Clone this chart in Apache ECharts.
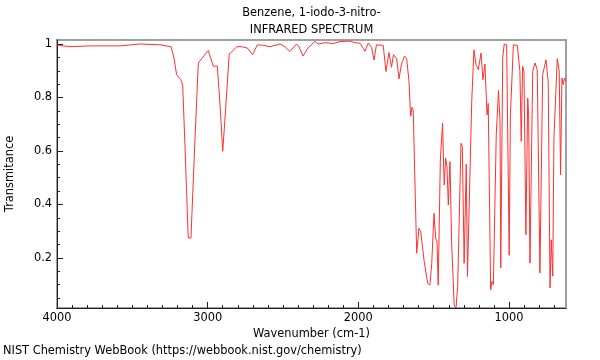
<!DOCTYPE html>
<html>
<head>
<meta charset="utf-8">
<script src="https://cdn.jsdelivr.net/npm/echarts@6/dist/echarts.min.js"></script>
<style>html,body{margin:0;padding:0;background:#fff}#c{width:600px;height:360px}</style>
</head>
<body>
<div id="c"></div>
<script>
const titleLines = ['Benzene, 1-iodo-3-nitro-', 'INFRARED SPECTRUM'];
const footerText = 'NIST Chemistry WebBook (https://webbook.nist.gov/chemistry)';
const xAxisName = 'Wavenumber (cm-1)';
const yAxisName = 'Transmitance';
const xTickLabels = [1000, 2000, 3000, 4000];
const yTickLabels = [0.2, 0.4, 0.6, 0.8, 1];
const xMinorTicks = [700,800,900,1100,1200,1300,1400,1500,1600,1700,1800,1900,2100,2200,2300,2400,2500,2600,2700,2800,2900,3100,3200,3300,3400,3500,3600,3700,3800,3900];
const yMinorTicks = [0.05,0.1,0.15,0.25,0.3,0.35,0.45,0.5,0.55,0.65,0.7,0.75,0.85,0.9,0.95];

const wavenumber = [4000,3914,3781,3582,3449,3316,3243,3224,3206,3179,3166,3151,3129,3111,3084,3062,3040,2996,2985,2963,2936,2927,2918,2900,2885,2857,2841,2807,2774,2737,2701,2671,2631,2587,2520,2487,2454,2411,2394,2368,2334,2288,2268,2222,2168,2122,2056,2022,1989,1956,1934,1912,1896,1880,1835,1817,1797,1780,1767,1757,1746,1730,1714,1694,1679,1664,1653,1644,1636,1613,1598,1586,1576,1563,1551,1540,1525,1513,1498,1487,1478,1470,1456,1441,1434,1430,1421,1412,1403,1392,1381,1364,1352,1341,1319,1310,1298,1284,1276,1248,1233,1219,1204,1186,1173,1160,1146,1138,1122,1113,1104,1085,1070,1060,1055,1042,1032,1016,999,991,971,945,928,919,910,901,888,876,870,861,843,828,813,795,777,755,740,728,720,710,702,680,667,658,649,640,632,624];
const transmittance = [0.996,0.99,0.993,0.993,1.0,0.997,0.99,0.948,0.885,0.867,0.848,0.624,0.275,0.275,0.649,0.929,0.945,0.976,0.97,0.917,0.917,0.91,0.773,0.599,0.723,0.963,0.97,0.99,0.99,0.985,0.96,0.997,0.995,0.99,1.0,0.99,0.972,1.0,0.99,0.955,0.985,1.01,1.0,1.005,1.002,1.009,1.011,1.005,1.003,0.973,1.004,0.987,0.94,0.997,0.995,0.897,0.968,0.913,0.96,0.966,0.945,0.87,0.925,0.955,0.945,0.86,0.73,0.763,0.753,0.218,0.311,0.298,0.292,0.186,0.18,0.105,0.099,0.18,0.367,0.274,0.261,0.099,0.566,0.704,0.541,0.473,0.573,0.541,0.398,0.56,0.255,0.024,0.013,0.093,0.629,0.616,0.18,0.551,0.131,0.78,0.978,0.923,0.904,0.966,0.866,0.925,0.735,0.778,0.081,0.112,0.1,0.66,0.826,0.711,0.163,0.948,1.0,0.997,0.21,0.736,0.997,0.995,0.898,0.636,0.917,0.898,0.287,0.798,0.736,0.181,0.898,0.929,0.904,0.144,0.885,0.941,0.86,0.088,0.268,0.132,0.649,0.945,0.898,0.511,0.873,0.848,0.873,0.86];

const X_MIN = 622, X_MAX = 4000, Y_MIN = 0.013, Y_MAX = 1.015;
const FONT = 'DejaVu Sans';
const FS = 11.4;

const chart = echarts.init(document.getElementById('c'), null, {renderer: 'canvas'});
const baseX = {
  type: 'value', min: X_MIN, max: X_MAX, inverse: true, gridIndex: 0,
  splitLine: {show: false}
};
const baseY = {
  type: 'value', min: Y_MIN, max: Y_MAX, gridIndex: 0,
  splitLine: {show: false}
};
chart.setOption({
  animation: false,
  backgroundColor: '#fff',
  title: [
    {text: titleLines.join('\n'), left: 311.5, top: 5, padding: 0, textAlign: 'center',
     textStyle: {fontFamily: FONT, fontSize: FS, fontWeight: 'normal', color: '#000', lineHeight: 17}},
    {text: footerText, left: 3, top: 346, padding: 0,
     textStyle: {fontFamily: FONT, fontSize: FS, fontWeight: 'normal', color: '#000'}}
  ],
  grid: {left: 57, right: 34, top: 40, bottom: 52, outerBoundsMode: 'none', containLabel: false,
         show: true, borderColor: '#a0a0a0', borderWidth: 2, backgroundColor: 'transparent'},
  xAxis: [
    Object.assign({}, baseX, {
      position: 'bottom',
      name: xAxisName, nameLocation: 'middle', nameGap: 18,
      nameTextStyle: {fontFamily: FONT, fontSize: FS, color: '#000'},
      axisLine: {show: true, lineStyle: {color: '#222', width: 1}},
      axisTick: {show: true, inside: true, length: 6, customValues: xTickLabels, lineStyle: {color: '#222'}},
      axisLabel: {show: true, margin: 5, customValues: xTickLabels, fontFamily: FONT, fontSize: FS, color: '#000',
                  formatter: v => String(Math.round(v))}
    }),
    Object.assign({}, baseX, {
      position: 'bottom',
      axisLine: {show: false},
      axisTick: {show: true, inside: true, length: 3, customValues: xMinorTicks, lineStyle: {color: '#222'}},
      axisLabel: {show: false}
    })
  ],
  yAxis: [
    Object.assign({}, baseY, {
      position: 'left',
      name: yAxisName, nameLocation: 'middle', nameGap: 41, nameRotate: 90,
      nameTextStyle: {fontFamily: FONT, fontSize: FS, color: '#000'},
      axisLine: {show: true, lineStyle: {color: '#222', width: 1}},
      axisTick: {show: true, inside: true, length: 6, customValues: yTickLabels, lineStyle: {color: '#222'}},
      axisLabel: {show: true, margin: 5, customValues: yTickLabels, fontFamily: FONT, fontSize: FS, color: '#000',
                  formatter: v => String(Math.round(v * 10) / 10)}
    }),
    Object.assign({}, baseY, {
      position: 'left',
      axisLine: {show: false},
      axisTick: {show: true, inside: true, length: 3, customValues: yMinorTicks, lineStyle: {color: '#222'}},
      axisLabel: {show: false}
    })
  ],
  series: [{
    type: 'line',
    xAxisIndex: 0, yAxisIndex: 0,
    data: wavenumber.map((w, i) => [w, transmittance[i]]),
    showSymbol: false, symbol: 'none',
    clip: true,
    lineStyle: {color: '#ff3030', width: 1},
    silent: true
  }]
});
</script>
</body>
</html>
